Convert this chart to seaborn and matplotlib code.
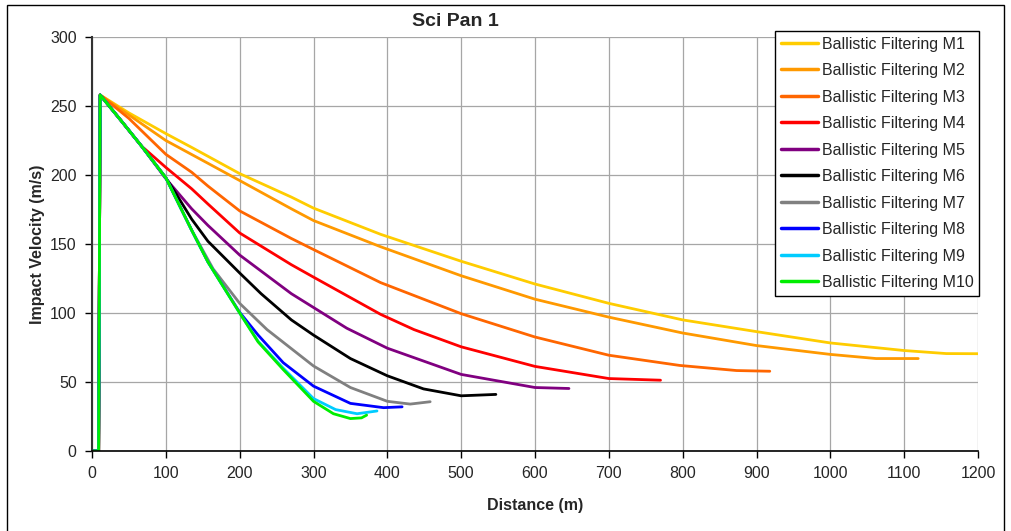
import matplotlib
matplotlib.use("Agg")
import matplotlib.pyplot as plt
import seaborn as sns
from matplotlib.patches import Rectangle

# data (distance m, impact velocity m/s)
dist_m1 = [0, 9, 11, 50, 100, 135, 200, 270, 300, 391, 500, 600, 700, 800, 900, 1000, 1100, 1157, 1200]
vel_m1 = [0, 0, 258, 245, 230, 220, 201, 184, 176, 157, 137.5, 121, 107, 95, 86.5, 78.3, 72.8, 70.6, 70.5]

dist_m2 = [0, 9, 11, 50, 100, 157, 200, 270, 300, 391, 500, 600, 700, 800, 900, 1000, 1062, 1119]
vel_m2 = [0, 0, 258, 243.5, 225, 208.5, 196, 175.5, 167, 148, 127, 110, 97, 85.5, 76.4, 70, 67, 67]

dist_m3 = [0, 9, 11, 50, 100, 135, 157, 200, 270, 300, 391, 500, 600, 700, 796, 873, 918]
vel_m3 = [0, 0, 258, 241, 215, 202, 192, 174, 154, 146, 122, 99.5, 82.6, 69.4, 62, 58.3, 57.8]

dist_m4 = [0, 9, 11, 40, 67, 100, 135, 157, 200, 270, 300, 391, 436, 500, 600, 700, 770]
vel_m4 = [0, 0, 258, 239, 221, 205.5, 190, 179, 158, 135, 126, 99, 88, 75.5, 61.3, 52.5, 51.3]

dist_m5 = [0, 9, 11, 40, 67, 99, 135, 157, 200, 270, 300, 345, 400, 500, 600, 646]
vel_m5 = [0, 0, 258, 239, 221, 198, 175.5, 163.5, 142, 114, 104, 89, 74.5, 55.5, 46, 45.3]

dist_m6 = [0, 9, 11, 40, 67, 100, 112, 135, 157, 200, 229, 270, 300, 350, 400, 449, 500, 547]
vel_m6 = [0, 0, 258, 239, 221, 198, 188, 168, 152, 129, 114, 95, 84, 67, 54.5, 45, 40, 41]

dist_m7 = [0, 9, 11, 40, 67, 100, 135, 164, 200, 237, 300, 350, 400, 431, 458]
vel_m7 = [0, 0, 258, 239, 221, 198, 160, 132, 107, 88, 61.6, 46, 36, 34, 35.7]

dist_m8 = [0, 9, 11, 40, 67, 100, 135, 157, 200, 225, 259, 300, 350, 395, 420]
vel_m8 = [0, 0, 258, 239, 221, 198, 160, 137, 100.5, 84, 64, 47, 34.5, 31.4, 32]

dist_m9 = [0, 9, 11, 40, 67, 100, 135, 157, 200, 225, 259, 300, 330, 359, 386]
vel_m9 = [0, 0, 258, 239, 221, 198, 160, 137, 100, 79.5, 60, 38, 30, 27, 29]

dist_m10 = [0, 9, 11, 40, 67, 100, 135, 157, 200, 225, 259, 300, 327, 350, 365, 372]
vel_m10 = [0, 0, 258, 239, 221, 198, 160, 137, 100, 79, 59, 36, 27, 23.5, 24, 26]

series_names = ["Ballistic Filtering M%d" % i for i in range(1, 11)]
series_dist = [dist_m1, dist_m2, dist_m3, dist_m4, dist_m5, dist_m6, dist_m7, dist_m8, dist_m9, dist_m10]
series_vel = [vel_m1, vel_m2, vel_m3, vel_m4, vel_m5, vel_m6, vel_m7, vel_m8, vel_m9, vel_m10]
colors = ["#FFCC00", "#FF9900", "#FF6600", "#FF0000", "#800080",
          "#000000", "#808080", "#0000FF", "#00CCFF", "#00EE00"]

x_ticks = list(range(0, 1201, 100))
y_ticks = list(range(0, 301, 50))

sns.set_theme(style="white")
plt.rcParams["font.family"] = ["Liberation Sans", "DejaVu Sans"]

fig = plt.figure(figsize=(10.12, 5.31), dpi=100)
ax = fig.add_axes([92 / 1012, 1 - 451 / 531, 886 / 1012, 414 / 531])

for name, d, v, c in zip(series_names, series_dist, series_vel, colors):
    sns.lineplot(x=d, y=v, color=c, label=name, sort=False, estimator=None,
                 linewidth=2, ax=ax)

ax.set_xlim(0, 1200)
ax.set_ylim(0, 300)
ax.set_xticks(x_ticks)
ax.set_yticks(y_ticks)
ax.grid(True, color="#A6A6A6", linewidth=0.9)
ax.set_axisbelow(True)
for side in ["top", "right"]:
    ax.spines[side].set_visible(False)
ax.spines["left"].set_color("#333333")
ax.spines["left"].set_linewidth(1.5)
ax.spines["bottom"].set_color("black")
ax.spines["bottom"].set_linewidth(1.2)
ax.tick_params(axis="both", direction="out", length=5, width=1, color="black",
               labelsize=11.5, pad=6, left=True, bottom=True)

ax.set_xlabel("Distance (m)", fontsize=11.5, fontweight="bold", labelpad=12)
ax.set_ylabel("Impact Velocity (m/s)", fontsize=11.5, fontweight="bold", labelpad=4)
fig.text(455 / 1012, 1 - 22 / 531, "Sci Pan 1", fontsize=14, fontweight="bold",
         ha="center", va="center")

leg = ax.legend(loc="upper right", bbox_to_anchor=(979 / 1012, 1 - 31 / 531),
                bbox_transform=fig.transFigure, fontsize=11.5, frameon=True,
                fancybox=False, edgecolor="black", framealpha=1,
                handlelength=2.3, handletextpad=0.25, borderpad=0.35,
                labelspacing=0.72, borderaxespad=0)
leg.get_frame().set_linewidth(1)
for line in leg.get_lines():
    line.set_linewidth(2.5)

# outer chart border
fig.patches.append(Rectangle((7 / 1012, -0.01), 997 / 1012, 1.01 - 5 / 531,
                             transform=fig.transFigure, fill=False,
                             edgecolor="black", linewidth=1))

fig.savefig("out.png", dpi=100)
